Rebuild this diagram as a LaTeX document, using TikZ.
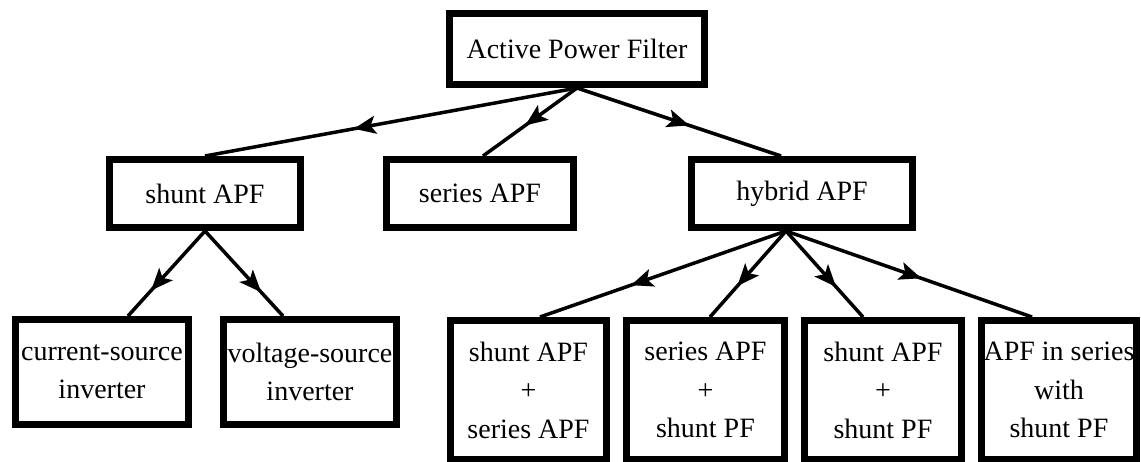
\documentclass[tikz,border=0pt]{standalone}
\usepackage{fontspec}
\setmainfont{Liberation Serif}
\newfontfamily\tnr{Liberation Serif}
\usetikzlibrary{arrows.meta,decorations.markings}
\begin{document}
\begin{tikzpicture}[x=1pt,y=-1pt,
  box/.style={draw=black, line width=7pt, fill=white, inner sep=0pt, align=center,
    font=\tnr\fontsize{28}{38.5}\selectfont, line join=miter},
  conn/.style={line width=3.5pt, draw=black, postaction={decorate},
    decoration={markings, mark=at position #1 with {\arrow{Stealth[length=22pt,width=18pt,inset=5pt]}}}}
]
\useasboundingbox (0,0) rectangle (1141,462);
\fill[white] (0,0) rectangle (1141,462);

\node[box, minimum width=255pt, minimum height=71pt] (top) at (577,49) {Active Power Filter};
\node[box, minimum width=191pt, minimum height=68pt] (shunt) at (205,193.5) {shunt APF};
\node[box, minimum width=187pt, minimum height=68pt] (series) at (480,193.5) {series APF};
\node[box, minimum width=221pt, minimum height=68pt] (hybrid) at (802,193.5) {hybrid APF};

\node[box, minimum width=173pt, minimum height=105pt] (csi) at (102,372) {current-source\\inverter};
\node[box, minimum width=173pt, minimum height=105pt] (vsi) at (310,372) {voltage-source\\inverter};

\node[box, minimum width=156pt, minimum height=139pt] (ha) at (528.5,390) {shunt APF\\+\\series APF};
\node[box, minimum width=158pt, minimum height=139pt] (hb) at (705.5,390) {series APF\\+\\shunt PF};
\node[box, minimum width=157pt, minimum height=139pt] (hc) at (883,390) {shunt APF\\+\\shunt PF};
\node[box, minimum width=155pt, minimum height=139pt] (hd) at (1059,390) {APF in series\\with\\shunt PF};

\draw[conn=0.6] (top.south) -- (shunt.north);
\draw[conn=0.55] (top.south) -- ([xshift=3pt]series.north);
\draw[conn=0.55] (top.south) -- ([xshift=-21pt]hybrid.north);

\draw[conn=0.7] (shunt.south) -- ([xshift=26pt]csi.north);
\draw[conn=0.72] (shunt.south) -- ([xshift=-27pt]vsi.north);

\draw[conn=0.63] ([xshift=-16pt]hybrid.south) -- ([xshift=11.5pt]ha.north);
\draw[conn=0.64] ([xshift=-16pt]hybrid.south) -- ([xshift=4.5pt]hb.north);
\draw[conn=0.65] ([xshift=-16pt]hybrid.south) -- ([xshift=-20pt]hc.north);
\draw[conn=0.55] ([xshift=-16pt]hybrid.south) -- ([xshift=-27pt]hd.north);
\end{tikzpicture}
\end{document}
